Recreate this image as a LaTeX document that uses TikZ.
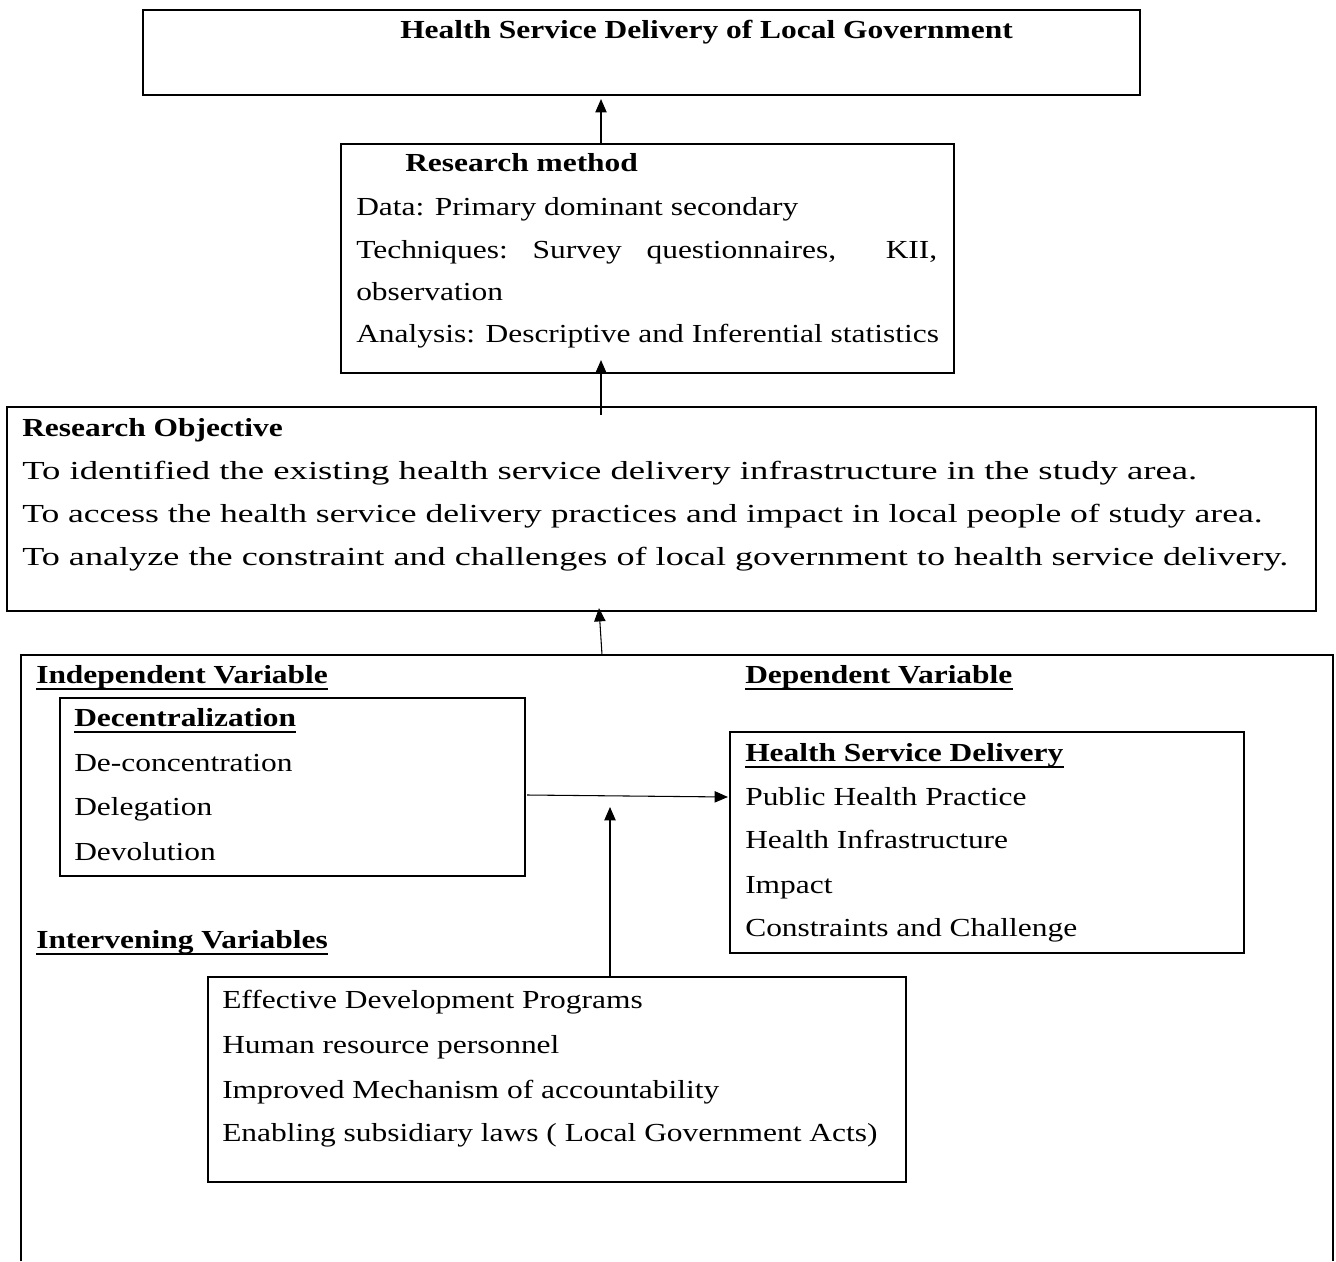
\documentclass[tikz,border=0pt]{standalone}
\usepackage{graphicx}
\usepackage{fontspec}
\setmainfont[FakeStretch=1.21]{Liberation Serif}
\usetikzlibrary{arrows.meta,calc,fit}
\newcommand\myfs{\fontsize{19.5pt}{22pt}\selectfont}
\begin{document}
\begin{tikzpicture}[x=0.75pt,y=-0.75pt,
  box/.style={draw, line width=1.6pt, inner sep=0pt},
  boxline/.style={line width=1.6pt},
  txt/.style={anchor=base west, inner sep=0pt, font=\myfs},
  btxt/.style={anchor=base west, inner sep=0pt, font=\myfs\bfseries},
  ulline/.style={line width=1.7pt},
  arr/.style={line width=0.8pt, -{Triangle[length=10pt,width=8.5pt]}}]
\useasboundingbox[fill=white] (0,0) rectangle (1336,1261);

% boxes
\node[box, fit={(143,10) (1140,95)}] (top) {};
\node[box, fit={(341,144) (954,373)}] (rm) {};
\node[box, fit={(7,407) (1316,611)}] (obj) {};
\node[inner sep=0pt, fit={(21,655) (1333,1261)}] (big) {};
\draw[boxline] (big.south west) -- (big.north west) -- (big.north east) -- (big.south east);
\node[box, fit={(60,698) (525,876)}] (dec) {};
\node[box, fit={(730,732) (1244,953)}] (hsd) {};
\node[box, fit={(208,977) (906,1182)}] (inter) {};

% top
\node[btxt] (title) at (400,38) {Health Service Delivery of Local Government};

% research method
\node[btxt] (rmh) at (405,171) {Research method};
\node[txt] (rm1) at (356,215) {Data: Primary dominant secondary};
\node[txt] (rm2) at (356,258) {\makebox[435.75pt][l]{Techniques:\hfill Survey\hfill questionnaires,\hfill\hfill KII,}};
\node[txt] (rm3) at (356,300) {observation};
\node[txt] (rm4) at (356,342) {Analysis: Descriptive and Inferential statistics};

% objectives
\node[btxt] (objh) at (22,436) {Research Objective};
\node[txt] (obj1) at (22,479) {\scalebox{1.166}[1]{To identified the existing health service delivery infrastructure in the study area.}};
\node[txt] (obj2) at (22,522) {\scalebox{1.13}[1]{To access the health service delivery practices and impact in local people of study area.}};
\node[txt] (obj3) at (22,565) {\scalebox{1.15}[1]{To analyze the constraint and challenges of local government to health service delivery.}};

% variables headings
\node[btxt] (indep) at (36,683) {Independent Variable};
\node[btxt] (dep) at (745,683) {Dependent Variable};
\node[btxt] (interh) at (36,948) {Intervening Variables};

% decentralization
\node[btxt] (dech) at (74,726) {Decentralization};
\node[txt] (dec1) at (74,771) {De-concentration};
\node[txt] (dec2) at (74,815) {Delegation};
\node[txt] (dec3) at (74,860) {Devolution};

% health service delivery
\node[btxt] (hsdh) at (745,761) {Health Service Delivery};
\node[txt] (hsd1) at (745,805) {Public Health Practice};
\node[txt] (hsd2) at (745,848) {Health Infrastructure};
\node[txt] (hsd3) at (745,893) {Impact};
\node[txt] (hsd4) at (745,936) {Constraints and Challenge};

% intervening
\node[txt] (int1) at (222,1008) {Effective Development Programs};
\node[txt] (int2) at (222,1053) {Human resource personnel};
\node[txt] (int3) at (222,1098) {Improved Mechanism of accountability};
\node[txt] (int4) at (222,1141) {Enabling subsidiary laws ( Local Government Acts)};

% underlines
\foreach \n in {indep,dep,interh,dech,hsdh}{
  \draw[ulline] ($(\n.base west)+(0,6)$) -- ($(\n.base east)+(0,6)$);
}

% connectors
\coordinate (ax) at (601,0);
\coordinate (bx) at (602,0);
\coordinate (bx2) at (599,0);
\coordinate (itip) at (610,807);
\draw[arr] (rm.north -| ax) -- ($(top.south -| ax)+(0,3)$);
\draw[arr] ($(obj.north -| ax)+(0,9)$) -- ($(rm.south -| ax)+(0,-14)$);
\draw[arr] (big.north -| bx) -- ($(obj.south -| bx2)+(0,-4)$);
\draw[arr] ($(dec.east)+(1,8)$) -- ($(hsd.west)+(-1,-45.5)$);
\draw[arr] (inter.north -| itip) -- (itip);
\end{tikzpicture}
\end{document}
